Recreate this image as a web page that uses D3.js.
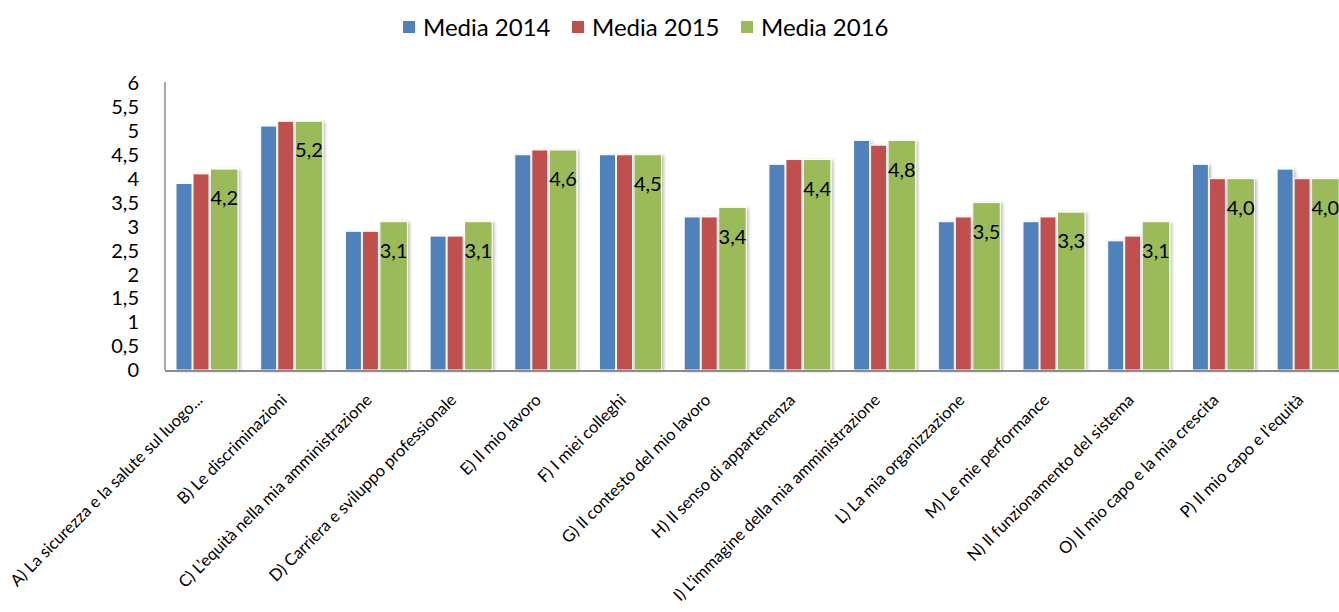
<!DOCTYPE html>
<html>
<head>
<meta charset="utf-8">
<script src="https://cdnjs.cloudflare.com/ajax/libs/d3/7.8.5/d3.min.js"></script>
<style>
  body { margin: 0; background: #fff; }
  svg text { font-family: Lato, "Open Sans", sans-serif; fill: #000; }
</style>
</head>
<body>
<svg width="1339" height="612"></svg>
<script>
// categories (there is no J and no K in the original survey)
var categories = [
  "A) La sicurezza e la salute sul luogo...",
  "B) Le discriminazioni",
  "C) L\u2019equità nella mia amministrazione",
  "D) Carriera e sviluppo professionale",
  "E) Il mio lavoro",
  "F) I miei colleghi",
  "G) Il contesto del mio lavoro",
  "H) Il senso di appartenenza",
  "I) L\u2019immagine della mia amministrazione",
  "L) La mia organizzazione",
  "M) Le mie performance",
  "N) Il funzionamento del sistema",
  "O) Il mio capo e la mia crescita",
  "P) Il mio capo e l\u2019equità"
];
var seriesNames = ["Media 2014", "Media 2015", "Media 2016"];
var media2014 = [3.9, 5.1, 2.9, 2.8, 4.5, 4.5, 3.2, 4.3, 4.8, 3.1, 3.1, 2.7, 4.3, 4.2];
var media2015 = [4.1, 5.2, 2.9, 2.8, 4.6, 4.5, 3.2, 4.4, 4.7, 3.2, 3.2, 2.8, 4.0, 4.0];
var media2016 = [4.2, 5.2, 3.1, 3.1, 4.6, 4.5, 3.4, 4.4, 4.8, 3.5, 3.3, 3.1, 4.0, 4.0];
var yTicks = [0, 0.5, 1, 1.5, 2, 2.5, 3, 3.5, 4, 4.5, 5, 5.5, 6];

var colors = ["#4f81bd", "#c0504d", "#9bbb59"];
var series = [media2014, media2015, media2016];

var svg = d3.select("svg");

// plot area (runs off the right edge, like the original)
var plotL = 165, plotT = 83, plotB = 370;
var bandW = 84.7;
var x = d3.scaleBand().domain(categories).range([plotL, plotL + bandW * categories.length]);
var y = d3.scaleLinear().domain([0, 6]).range([plotB, plotT]);

// within each category: blue, red narrow; green wider
var inner = [{off: 11, w: 16}, {off: 28, w: 16}, {off: 45.5, w: 27.5}];

var defs = svg.append("defs");
var f = defs.append("filter").attr("id", "shadow")
  .attr("x", "-20%").attr("y", "-5%").attr("width", "150%").attr("height", "115%");
f.append("feDropShadow").attr("dx", 2).attr("dy", 1).attr("stdDeviation", 1.5)
  .attr("flood-color", "#000").attr("flood-opacity", 0.25);

// y axis line
svg.append("line").attr("x1", plotL).attr("x2", plotL).attr("y1", plotT - 1).attr("y2", plotB)
  .attr("stroke", "#8c8c8c").attr("stroke-width", 1.5);

// y tick labels
svg.append("g").selectAll("text").data(yTicks).enter().append("text")
  .attr("x", 139).attr("y", function(d) { return y(d); })
  .attr("dy", "0.36em")
  .attr("text-anchor", "end")
  .style("font-size", "20px")
  .text(function(d) { return String(d).replace(".", ","); });

// bars
var rows = [];
categories.forEach(function(c, i) {
  series.forEach(function(s, j) { rows.push({cat: c, s: j, v: s[i]}); });
});

svg.append("g").selectAll("rect").data(rows).enter().append("rect")
  .attr("x", function(d) { return x(d.cat) + inner[d.s].off; })
  .attr("width", function(d) { return inner[d.s].w; })
  .attr("y", function(d) { return y(d.v); })
  .attr("height", function(d) { return plotB - y(d.v); })
  .attr("fill", function(d) { return colors[d.s]; })
  .attr("stroke", "#fff").attr("stroke-width", 1)
  .attr("filter", "url(#shadow)");

// x axis line
svg.append("line").attr("x1", plotL).attr("x2", 1339).attr("y1", plotB + 1).attr("y2", plotB + 1)
  .attr("stroke", "#8c8c8c").attr("stroke-width", 2);

// value labels on 2016
svg.append("g").selectAll("text").data(categories).enter().append("text")
  .attr("x", function(d) { return x(d) + inner[2].off + inner[2].w / 2; })
  .attr("y", function(d, i) { return y(media2016[i]) + 29; })
  .attr("dy", "0.36em")
  .attr("text-anchor", "middle")
  .style("font-size", "20px")
  .text(function(d, i) { return media2016[i].toFixed(1).replace(".", ","); });

// x labels
svg.append("g").selectAll("text").data(categories).enter().append("text")
  .attr("transform", function(d) {
    return "translate(" + (x(d) + x.bandwidth() / 2 - 8) + "," + (plotB + 27) + ") rotate(-45)";
  })
  .attr("text-anchor", "end")
  .attr("dy", "0.35em")
  .style("font-size", "16.5px")
  .text(function(d) { return d; });

// legend
var legendX = [403, 572, 741];
var lg = svg.append("g").selectAll("g").data(seriesNames).enter().append("g")
  .attr("transform", function(d, i) { return "translate(" + legendX[i] + ",0)"; });
lg.append("rect").attr("x", 0).attr("y", 21).attr("width", 12).attr("height", 12)
  .attr("fill", function(d, i) { return colors[i]; });
lg.append("text").attr("x", 20).attr("y", 27).attr("dy", "0.36em")
  .style("font-size", "24px")
  .text(function(d) { return d; });
</script>
</body>
</html>
